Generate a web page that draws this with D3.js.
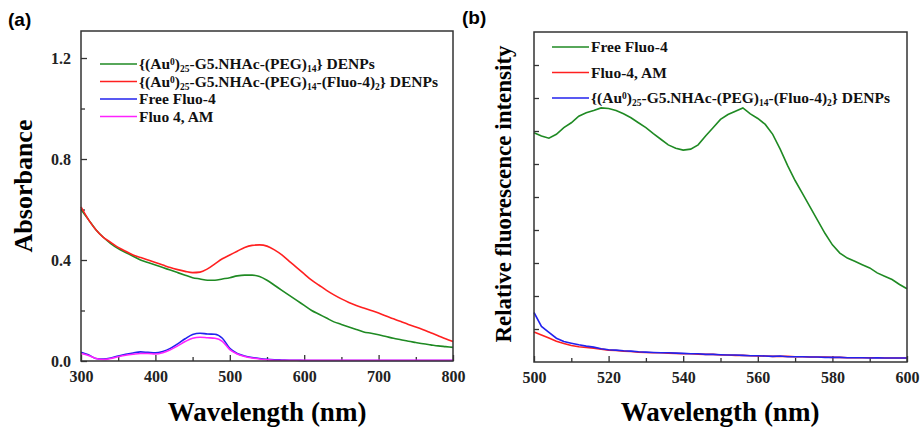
<!DOCTYPE html>
<html>
<head>
<meta charset="utf-8">
<script src="https://cdn.jsdelivr.net/npm/d3@7"></script>
<style>
  body { margin: 0; background: #fff; }
  svg { display: block; }
  .serif { font-family: 'Liberation Serif', 'DejaVu Serif', 'Times New Roman', serif; font-weight: bold; }
  .sans { font-family: 'Liberation Sans', Arial, sans-serif; font-weight: bold; }
</style>
</head>
<body>
<script>
// ---- data: panel (a), absorbance ----
var absWave = [300,310,320,330,340,350,360,370,380,390,400,410,420,430,440,450,460,470,480,490,
               500,510,520,530,540,550,560,570,580,590,600,610,620,630,640,650,660,670,680,690,
               700,710,720,730,740,750,760,770,780,790,800];
var absPeg = [0.60,0.56,0.52,0.49,0.465,0.445,0.43,0.415,0.40,0.39,0.38,0.37,0.36,0.35,0.34,0.33,0.325,0.32,0.32,0.325,
              0.33,0.337,0.34,0.34,0.335,0.32,0.30,0.28,0.26,0.24,0.22,0.20,0.185,0.17,0.155,0.145,0.135,0.125,0.115,0.11,
              0.104,0.097,0.09,0.084,0.078,0.073,0.068,0.064,0.06,0.057,0.054];
var absPegFluo = [0.61,0.56,0.52,0.49,0.47,0.45,0.435,0.42,0.41,0.40,0.39,0.38,0.37,0.362,0.355,0.35,0.352,0.365,0.385,0.405,
                  0.42,0.435,0.45,0.458,0.46,0.455,0.44,0.42,0.395,0.37,0.345,0.32,0.30,0.28,0.262,0.246,0.232,0.22,0.21,0.20,
                  0.19,0.178,0.167,0.156,0.145,0.135,0.124,0.112,0.1,0.088,0.077];
var absFreeFluo = [0.035,0.025,0.01,0.008,0.012,0.02,0.027,0.032,0.036,0.034,0.032,0.038,0.05,0.068,0.088,0.105,0.11,0.107,0.106,0.09,
                   0.05,0.03,0.02,0.014,0.01,0.007,0.005,0.004,0.003,0.003,0.002,0.002,0.002,0.002,0.002,0.002,0.002,0.002,0.002,0.002,
                   0.002,0.002,0.002,0.002,0.002,0.002,0.002,0.002,0.002,0.002,0.002];
var absFluoAM = [0.03,0.022,0.01,0.006,0.01,0.017,0.023,0.027,0.03,0.03,0.028,0.033,0.044,0.06,0.077,0.09,0.094,0.092,0.09,0.078,
                 0.045,0.028,0.018,0.012,0.008,0.005,0.003,0.003,0.003,0.003,0.003,0.003,0.003,0.003,0.003,0.003,0.003,0.003,0.003,0.003,
                 0.003,0.003,0.003,0.003,0.003,0.003,0.003,0.003,0.003,0.003,0.003];
var absTicks = [0, 0.4, 0.8, 1.2];

// ---- data: panel (b), fluorescence ----
var flWave = [500,502,504,506,508,510,512,514,516,518,520,522,524,526,528,530,532,534,536,538,
              540,542,544,546,548,550,552,554,556,558,560,562,564,566,568,570,572,574,576,578,
              580,582,584,586,588,590,592,594,596,598,600];
var flFree = [6.95,6.85,6.78,6.9,7.1,7.25,7.45,7.55,7.62,7.7,7.68,7.62,7.52,7.4,7.25,7.1,6.92,6.75,6.58,6.48,
              6.42,6.45,6.58,6.85,7.1,7.35,7.5,7.6,7.7,7.52,7.38,7.2,6.9,6.45,5.95,5.5,5.1,4.7,4.3,3.9,
              3.55,3.3,3.15,3.05,2.95,2.85,2.7,2.6,2.5,2.35,2.22];
var flAM = [0.91,0.82,0.73,0.63,0.56,0.5,0.46,0.44,0.42,0.39,0.36,0.35,0.33,0.32,0.3,0.29,0.28,0.28,0.27,0.26,
            0.25,0.25,0.24,0.23,0.23,0.21,0.21,0.2,0.2,0.19,0.18,0.18,0.17,0.17,0.17,0.16,0.16,0.15,0.15,0.15,
            0.14,0.14,0.13,0.13,0.13,0.13,0.13,0.12,0.12,0.12,0.12];
var flDenp = [1.5,1.08,0.9,0.72,0.62,0.57,0.52,0.48,0.45,0.4,0.37,0.36,0.34,0.33,0.31,0.3,0.29,0.28,0.28,0.27,
              0.26,0.25,0.25,0.23,0.23,0.22,0.21,0.21,0.2,0.19,0.19,0.18,0.17,0.18,0.16,0.16,0.16,0.15,0.15,0.14,
              0.14,0.14,0.13,0.13,0.13,0.12,0.13,0.12,0.12,0.12,0.12];

var GREEN = '#1f8a23', RED = '#ff2020', BLUE = '#2222ee', MAGENTA = '#ff22ff';

var width = 921, height = 427;
var svg = d3.select('body').append('svg')
    .attr('width', width)
    .attr('height', height);

// legend label pieces: [text, 'sup'|'sub'|null]
var labPeg = [['{(Au'],['0','sup'],[')'],['25','sub'],['-G5.NHAc-(PEG)'],['14','sub'],['} DENPs']];
var labPegFluo = [['{(Au'],['0','sup'],[')'],['25','sub'],['-G5.NHAc-(PEG)'],['14','sub'],['-(Fluo-4)'],['2','sub'],['} DENPs']];

function richText(sel, parts) {
  var shift = 0;
  parts.forEach(function(p) {
    var want = p[1] === 'sup' ? -4 : p[1] === 'sub' ? 3 : 0;
    var t = sel.append('tspan').attr('dy', want - shift).text(p[0]);
    if (p[1]) t.style('font-size', '9.5px');
    shift = want;
  });
}

function frame(g, x, y) {
  var r = x.range(), d = y.range();
  g.append('rect')
      .attr('x', r[0]).attr('y', d[1])
      .attr('width', r[1] - r[0]).attr('height', d[0] - d[1])
      .attr('fill', 'none').attr('stroke', '#333').attr('stroke-width', 1.5);
}

function drawLegend(g, items, x0, y0, dy) {
  items.forEach(function(it, i) {
    var yy = y0 + i * dy;
    g.append('line')
        .attr('x1', x0).attr('x2', x0 + 37)
        .attr('y1', yy).attr('y2', yy)
        .attr('stroke', it.color).attr('stroke-width', 1.5);
    var t = g.append('text')
        .attr('class', 'serif')
        .attr('x', x0 + 39).attr('y', yy + 5)
        .style('font-size', '15.5px').attr('fill', '#111');
    richText(t, it.label);
  });
}

function ticksOnly(s) {
  s.select('.domain').remove();
  s.selectAll('.tick text').remove();
}

// ================= panel (a) =================
{
  var ga = svg.append('g');
  var xa = d3.scaleLinear().domain([300, 800]).range([81, 453]);
  var ya = d3.scaleLinear().domain([0, 1.307]).range([361, 31]);

  // ticks, inward
  ga.append('g')
      .attr('transform', 'translate(0,361)')
      .call(d3.axisBottom(xa).tickValues(d3.range(300, 801, 100)).tickSize(-6).tickPadding(10).tickFormat(d3.format('d')))
      .call(function(s) { s.select('.domain').remove(); });
  ga.append('g')
      .attr('transform', 'translate(0,361)')
      .call(d3.axisBottom(xa).tickValues(d3.range(350, 800, 100)).tickSize(-4))
      .call(ticksOnly);
  ga.append('g')
      .attr('transform', 'translate(81,0)')
      .call(d3.axisLeft(ya).tickValues(absTicks).tickSize(-6).tickPadding(10).tickFormat(d3.format('.1f')))
      .call(function(s) { s.select('.domain').remove(); });
  ga.append('g')
      .attr('transform', 'translate(81,0)')
      .call(d3.axisLeft(ya).tickValues([0.2, 0.6, 1.0]).tickSize(-4))
      .call(ticksOnly);

  var lineA = function(vals) {
    return d3.line()
        .x(function(d, i) { return xa(absWave[i]); })
        .y(function(d) { return ya(d); })
        .curve(d3.curveMonotoneX)(vals);
  };
  [[absPeg, GREEN], [absPegFluo, RED], [absFreeFluo, BLUE], [absFluoAM, MAGENTA]].forEach(function(s) {
    ga.append('path').attr('d', lineA(s[0]))
        .attr('fill', 'none').attr('stroke', s[1]).attr('stroke-width', 1.6);
  });

  frame(ga, xa, ya);

  drawLegend(ga, [
    {label: labPeg, color: GREEN},
    {label: labPegFluo, color: RED},
    {label: [['Free Fluo-4']], color: BLUE},
    {label: [['Fluo 4, AM']], color: MAGENTA}
  ], 100, 64, 17.5);

  ga.append('text')
      .attr('class', 'serif')
      .attr('x', 267).attr('y', 421)
      .attr('text-anchor', 'middle')
      .style('font-size', '27px')
      .text('Wavelength (nm)');
  ga.append('text')
      .attr('class', 'serif')
      .attr('transform', 'translate(32,186) rotate(-90)')
      .attr('text-anchor', 'middle')
      .style('font-size', '26px')
      .text('Absorbance');
  ga.append('text')
      .attr('class', 'sans')
      .attr('x', 8).attr('y', 26)
      .style('font-size', '19px')
      .text('(a)');
}

// ================= panel (b) =================
{
  var gb = svg.append('g');
  var xb = d3.scaleLinear().domain([500, 600]).range([534, 907]);
  var yb = d3.scaleLinear().domain([0, 10]).range([362, 32]);

  gb.append('g')
      .attr('transform', 'translate(0,362)')
      .call(d3.axisBottom(xb).tickValues(d3.range(500, 601, 20)).tickSize(-6).tickPadding(10).tickFormat(d3.format('d')))
      .call(function(s) { s.select('.domain').remove(); });
  gb.append('g')
      .attr('transform', 'translate(0,362)')
      .call(d3.axisBottom(xb).tickValues(d3.range(510, 600, 20)).tickSize(-4))
      .call(ticksOnly);
  gb.append('g')
      .attr('transform', 'translate(534,0)')
      .call(d3.axisLeft(yb).tickValues(d3.range(1, 10)).tickSize(-5))
      .call(ticksOnly);

  var lineB = function(vals) {
    return d3.line()
        .x(function(d, i) { return xb(flWave[i]); })
        .y(function(d) { return yb(d); })(vals);
  };
  [[flFree, GREEN], [flAM, RED], [flDenp, BLUE]].forEach(function(s) {
    gb.append('path').attr('d', lineB(s[0]))
        .attr('fill', 'none').attr('stroke', s[1]).attr('stroke-width', 1.6);
  });

  frame(gb, xb, yb);

  drawLegend(gb, [
    {label: [['Free Fluo-4']], color: GREEN},
    {label: [['Fluo-4, AM']], color: RED},
    {label: labPegFluo, color: BLUE}
  ], 552, 47, 25.5);

  gb.append('text')
      .attr('class', 'serif')
      .attr('x', 720).attr('y', 421)
      .attr('text-anchor', 'middle')
      .style('font-size', '27px')
      .text('Wavelength (nm)');
  gb.append('text')
      .attr('class', 'serif')
      .attr('transform', 'translate(511,194) rotate(-90)')
      .attr('text-anchor', 'middle')
      .style('font-size', '23px')
      .text('Relative fluorescence intensity');
  gb.append('text')
      .attr('class', 'sans')
      .attr('x', 462).attr('y', 24)
      .style('font-size', '19px')
      .text('(b)');
}

// tick label styling
svg.selectAll('.tick text')
    .attr('class', 'serif').style('font-size', '16px').attr('fill', '#222');
svg.selectAll('.tick line').attr('stroke', '#333').attr('stroke-width', 1.3);
</script>
</body>
</html>
